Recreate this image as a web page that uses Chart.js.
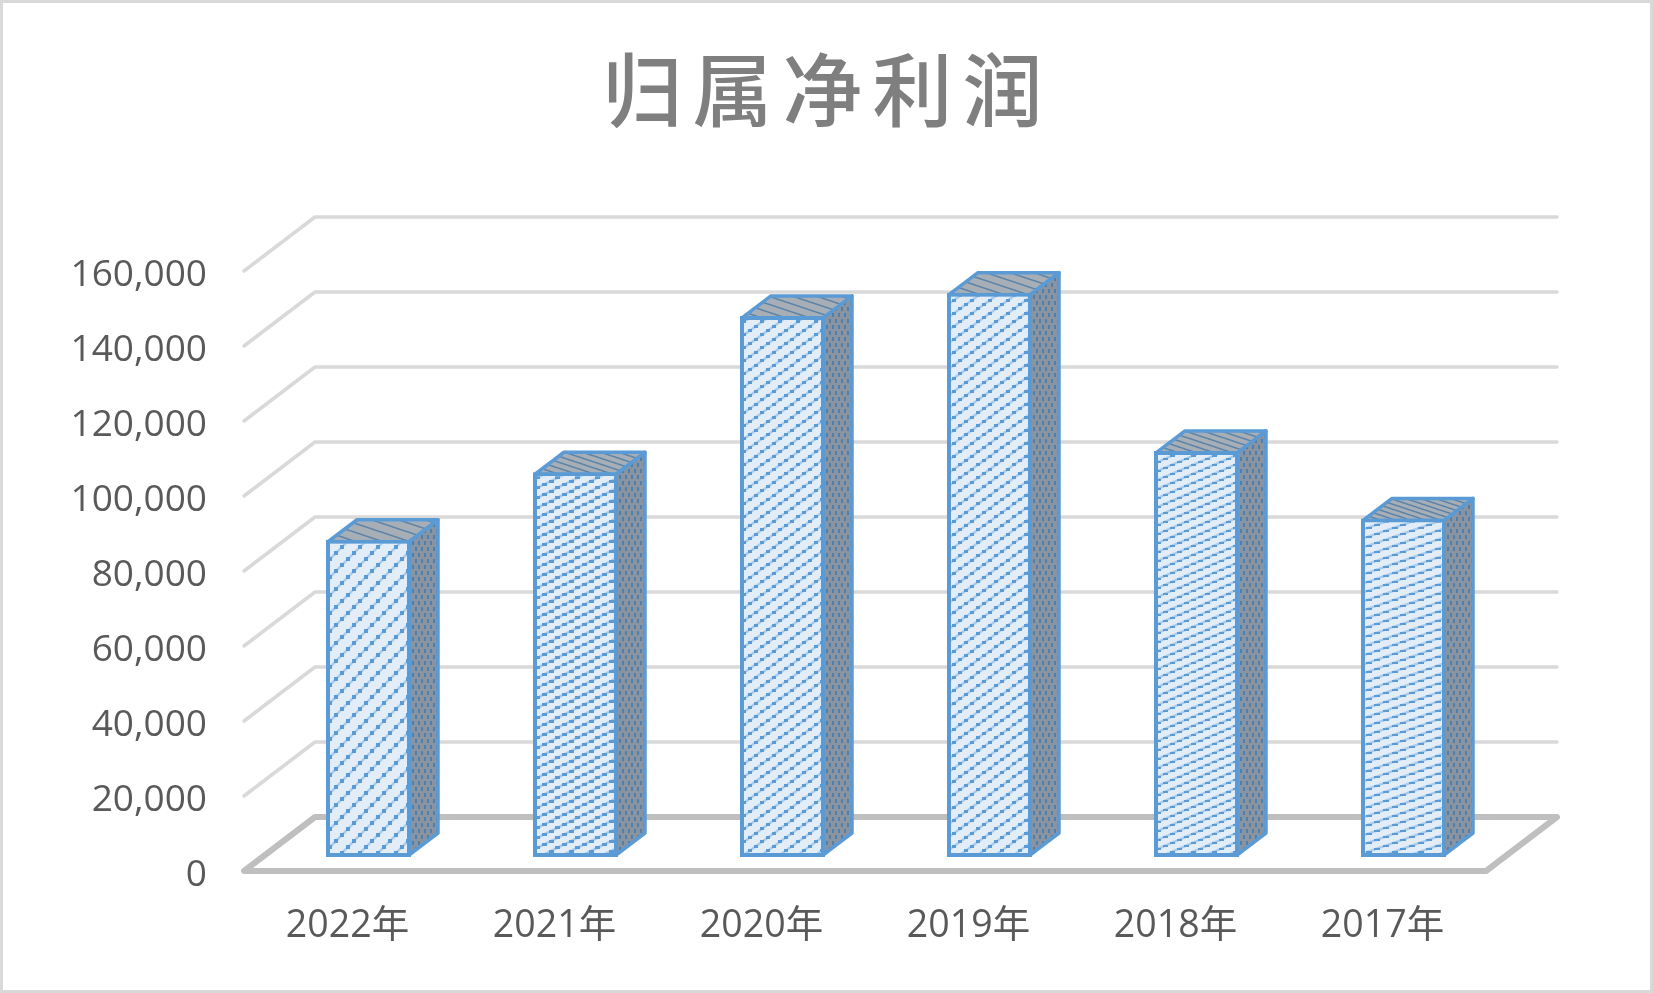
<!DOCTYPE html>
<html>
<head>
<meta charset="utf-8">
<title>归属净利润</title>
<style>
  html, body { margin: 0; padding: 0; background: #fff; }
  canvas { display: block; }
</style>
<script src="https://cdn.jsdelivr.net/npm/chart.js@4"></script>
</head>
<body>
<canvas id="profitChart" width="1653" height="993"></canvas>
<script>
const chartTitle = '归属净利润';
const years = ['2022年', '2021年', '2020年', '2019年', '2018年', '2017年'];
const netProfit = [84600, 102600, 144300, 150500, 108300, 90300];
const axisMin = 0;
const axisMax = 160000;
const axisStep = 20000;

const BLUE = '#5b9bd5';
const FONT = '"Open Sans", "Noto Sans CJK SC", sans-serif';

// oblique offsets of the fake 3D
const floorDx = 71, floorDy = -54;
const barDx = 21, barDy = -14;
const depthDx = 29, depthDy = -22;

function tile(w, h, paint) {
  const c = document.createElement('canvas');
  c.width = w;
  c.height = h;
  paint(c.getContext('2d'));
  return document.createElement('canvas').getContext('2d').createPattern(c, 'repeat');
}

// stepped dots on a faint line running up to the right, like the Excel pattern fill
function dotted(w, h, n, dw, dh, bg, fg, faint) {
  return tile(w, h, g => {
    g.fillStyle = bg;
    g.fillRect(0, 0, w, h);
    if (faint) {
      g.strokeStyle = faint;
      g.lineWidth = 2.5;
      g.beginPath();
      g.moveTo(-w, 2 * h); g.lineTo(2 * w, -h);
      g.moveTo(-w, h); g.lineTo(w, -h);
      g.moveTo(0, 2 * h); g.lineTo(2 * w, 0);
      g.stroke();
    }
    g.fillStyle = fg;
    for (let i = 0; i < n; i++) {
      const x = Math.round((i + 0.5) * w / n - dw / 2);
      const y = Math.round(h - (i + 0.5) * h / n - dh / 2);
      [[0, 0], [-w, 0], [w, 0], [0, -h], [0, h]].forEach(o => g.fillRect(x + o[0], y + o[1], dw, dh));
    }
  });
}

function hatched(w, h, bg, fg) {
  return tile(w, h, g => {
    g.fillStyle = bg;
    g.fillRect(0, 0, w, h);
    g.strokeStyle = fg;
    g.lineWidth = 1.6;
    g.beginPath();
    g.moveTo(-w, -h); g.lineTo(w * 2, h * 2);
    g.moveTo(-w, 0); g.lineTo(w, h * 2);
    g.moveTo(0, -h); g.lineTo(w * 2, h);
    g.stroke();
  });
}

const PALE = '#e3edf8', FAINT = '#a9cbec';
const frontFills = [
  dotted(18, 18, 3, 4, 4, PALE, BLUE, FAINT),
  dotted(20, 10, 3, 5, 3, PALE, BLUE, FAINT),
  dotted(18, 13, 3, 4, 3, PALE, BLUE, FAINT),
  dotted(18, 13, 3, 4, 3, PALE, BLUE, FAINT),
  dotted(21, 9, 3, 5, 2, PALE, BLUE, FAINT),
  dotted(26, 9, 3, 6, 2, PALE, BLUE, FAINT)
];
const sideFill = dotted(6, 12, 2, 2, 4, '#8a94a1', '#4f80ad');
const topFills = [9, 6, 8, 8, 6, 5].map(h => hatched(h * 3, h, '#a8aeb6', '#5a84aa'));

function poly(ctx, pts, fill) {
  ctx.beginPath();
  pts.forEach((p, i) => i ? ctx.lineTo(p[0], p[1]) : ctx.moveTo(p[0], p[1]));
  ctx.closePath();
  ctx.fillStyle = fill;
  ctx.fill();
  ctx.stroke();
}

const frame3d = {
  id: 'frame3d',
  beforeDraw(chart) {
    const ctx = chart.ctx;
    ctx.save();
    ctx.fillStyle = '#fff';
    ctx.fillRect(0, 0, chart.width, chart.height);
    ctx.strokeStyle = '#d9d9d9';
    ctx.lineWidth = 3;
    ctx.strokeRect(1.5, 1.5, chart.width - 3, chart.height - 3);
    ctx.restore();

    // spaced out title, moved over since the box stops at the padding
    if (!chart.titleBlock.spaced) {
      const draw = chart.titleBlock.draw;
      chart.titleBlock.draw = function () {
        chart.ctx.save();
        chart.ctx.letterSpacing = '10px';
        chart.ctx.translate(84.5, -2);
        draw.call(this);
        chart.ctx.restore();
      };
      chart.titleBlock.spaced = true;
    }
  },
  beforeDatasetsDraw(chart) {
    const ctx = chart.ctx;
    const y = chart.scales.y;
    const a = chart.chartArea;
    ctx.save();
    ctx.lineJoin = 'round';
    ctx.lineCap = 'round';

    // walls: one bent line for every tick above zero
    ctx.strokeStyle = '#d9d9d9';
    ctx.lineWidth = 3.5;
    y.ticks.forEach(t => {
      if (t.value === axisMin) return;
      const py = y.getPixelForValue(t.value);
      ctx.beginPath();
      ctx.moveTo(a.left, py);
      ctx.lineTo(a.left + floorDx, py + floorDy);
      ctx.lineTo(a.right + floorDx, py + floorDy);
      ctx.stroke();
    });

    // floor
    const p0 = y.getPixelForValue(axisMin);
    ctx.strokeStyle = '#bfbfbf';
    ctx.lineWidth = 6;
    ctx.beginPath();
    ctx.moveTo(a.left, p0);
    ctx.lineTo(a.right, p0);
    ctx.lineTo(a.right + floorDx, p0 + floorDy);
    ctx.lineTo(a.left + floorDx, p0 + floorDy);
    ctx.closePath();
    ctx.stroke();

    // side and top of each bar, the front comes from the bar element itself
    ctx.strokeStyle = BLUE;
    ctx.lineWidth = 3.5;
    chart.getDatasetMeta(0).data.forEach((bar, i) => {
      const r = bar.x + bar.width / 2 + barDx - 2;
      const l = bar.x - bar.width / 2 + barDx + 2;
      const t = bar.y + barDy + 2;
      const b = bar.base + barDy - 2;
      poly(ctx, [[r, t], [r + depthDx, t + depthDy], [r + depthDx, b + depthDy], [r, b]], sideFill);
      poly(ctx, [[l, t], [l + depthDx, t + depthDy], [r + depthDx, t + depthDy], [r, t]], topFills[i]);
    });
    ctx.restore();

    // bars stand a little behind the front edge of the floor
    ctx.save();
    ctx.translate(barDx, barDy);
  },
  afterDatasetsDraw(chart) {
    chart.ctx.restore();
  }
};

new Chart(document.getElementById('profitChart').getContext('2d'), {
  type: 'bar',
  data: {
    labels: years,
    datasets: [{
      label: chartTitle,
      data: netProfit,
      backgroundColor: frontFills,
      borderColor: BLUE,
      borderWidth: 4,
      borderSkipped: false,
      barPercentage: 85 / 207,
      categoryPercentage: 1,
      clip: false
    }]
  },
  options: {
    responsive: false,
    animation: false,
    devicePixelRatio: 1,
    layout: {
      autoPadding: false,
      padding: { left: 0, right: 167, top: 0, bottom: 0 }
    },
    plugins: {
      legend: { display: false },
      tooltip: { enabled: false },
      title: {
        display: true,
        text: chartTitle,
        color: '#7f7f7f',
        font: { family: '"Noto Sans CJK SC", sans-serif', size: 80, weight: '500', lineHeight: 1.2 },
        padding: { top: 44, bottom: 131 }
      }
    },
    scales: {
      x: {
        grid: { display: false, drawTicks: false },
        border: { display: false },
        ticks: {
          color: '#595959',
          font: { family: FONT, size: 37.5 },
          padding: 33,
          maxRotation: 0
        },
        afterFit(scale) { scale.height = 122; }
      },
      y: {
        min: axisMin,
        max: axisMax,
        grid: { display: false, drawTicks: false },
        border: { display: false },
        ticks: {
          stepSize: axisStep,
          color: '#595959',
          font: { family: FONT, size: 37 },
          padding: 37,
          labelOffset: 4,
          callback: v => v.toLocaleString('en-US')
        },
        afterFit(scale) { scale.width = 244; }
      }
    }
  },
  plugins: [frame3d]
});
</script>
</body>
</html>
